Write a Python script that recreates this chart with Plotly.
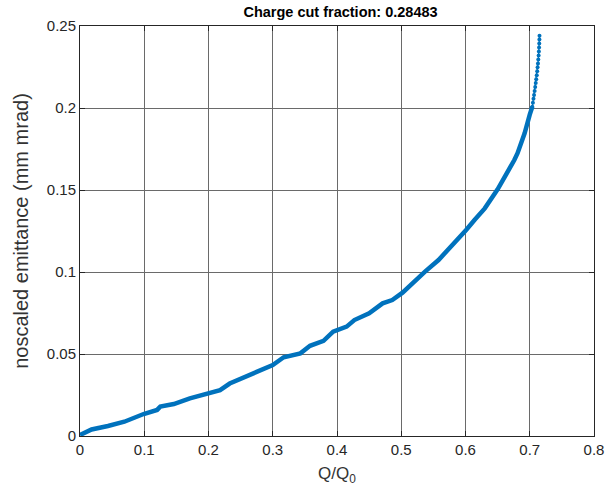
import plotly.graph_objects as go

# Main (dense) part of the curve
q_main = [0.0, 0.018, 0.0435, 0.069, 0.099, 0.120, 0.125, 0.146, 0.171, 0.200,
          0.218, 0.233, 0.259, 0.284, 0.300, 0.317, 0.343, 0.358, 0.379, 0.394,
          0.415, 0.427, 0.450, 0.471, 0.486, 0.502, 0.517, 0.537, 0.558, 0.573,
          0.601, 0.614, 0.630, 0.650, 0.665, 0.676, 0.681, 0.692, 0.700, 0.704]
emit_main = [0.0006, 0.004, 0.0061, 0.0087, 0.0134, 0.0159, 0.0179, 0.0195, 0.023, 0.026,
             0.028, 0.032, 0.0366, 0.0407, 0.0433, 0.048, 0.0504, 0.055, 0.058, 0.0636,
             0.0667, 0.0707, 0.0748, 0.0809, 0.0829, 0.0874, 0.0931, 0.1002, 0.1073, 0.1134,
             0.1256, 0.1317, 0.1388, 0.1504, 0.160, 0.1683, 0.1724, 0.1846, 0.1960, 0.2008]

# Top part where the individual sample dots are visible
q_top = [0.7040, 0.7049, 0.7058, 0.7067, 0.7076, 0.7085, 0.7093, 0.7101, 0.7109, 0.7116,
         0.7122, 0.7128, 0.7133, 0.7138, 0.7142, 0.7145, 0.7148, 0.7150, 0.71517]
emit_top = [0.2008, 0.2032, 0.2056, 0.2080, 0.2104, 0.2128, 0.2152, 0.2176, 0.2200, 0.2224,
            0.2248, 0.2272, 0.2296, 0.2320, 0.2344, 0.2369, 0.2393, 0.2417, 0.2441]

x_ticks = [0, 0.1, 0.2, 0.3, 0.4, 0.5, 0.6, 0.7, 0.8]
x_labels = ["0", "0.1", "0.2", "0.3", "0.4", "0.5", "0.6", "0.7", "0.8"]
y_ticks = [0, 0.05, 0.1, 0.15, 0.2, 0.25]
y_labels = ["0", "0.05", "0.1", "0.15", "0.2", "0.25"]

blue = "#0072BD"
font_family = "Liberation Sans, Arial, sans-serif"

fig = go.Figure()
fig.add_trace(go.Scatter(x=q_main, y=emit_main, mode="lines",
                         line=dict(color=blue, width=4.5), showlegend=False))
fig.add_trace(go.Scatter(x=q_top, y=emit_top, mode="lines+markers",
                         line=dict(color=blue, width=1.2),
                         marker=dict(color=blue, size=4), showlegend=False))

axis_common = dict(showline=True, linecolor="#262626", linewidth=1, mirror="ticks",
                   ticks="inside", ticklen=5, tickcolor="#262626",
                   showgrid=True, gridcolor="#6a6a6a", gridwidth=1,
                   zeroline=False, tickfont=dict(family=font_family, size=15, color="#262626"))

fig.update_layout(
    width=616, height=497,
    margin=dict(l=80, r=15, t=26, b=61),
    paper_bgcolor="white", plot_bgcolor="white",
    title=dict(text="<b>Charge cut fraction: 0.28483</b>", x=0.5528, xanchor="center",
               y=1 - 12 / 497, yanchor="middle", yref="container",
               font=dict(family=font_family, size=14.5, color="black")),
    xaxis=dict(range=[0, 0.8], tickvals=x_ticks, ticktext=x_labels,
               title=dict(text="Q/Q<sub>0</sub>", standoff=10,
                          font=dict(family=font_family, size=17, color="#333333")),
               **axis_common),
    yaxis=dict(range=[0, 0.25], tickvals=y_ticks, ticktext=y_labels,
               title=dict(text="noscaled emittance (mm mrad)", standoff=12,
                          font=dict(family=font_family, size=20, color="#333333")),
               **axis_common),
)

fig.write_html("out.html")
